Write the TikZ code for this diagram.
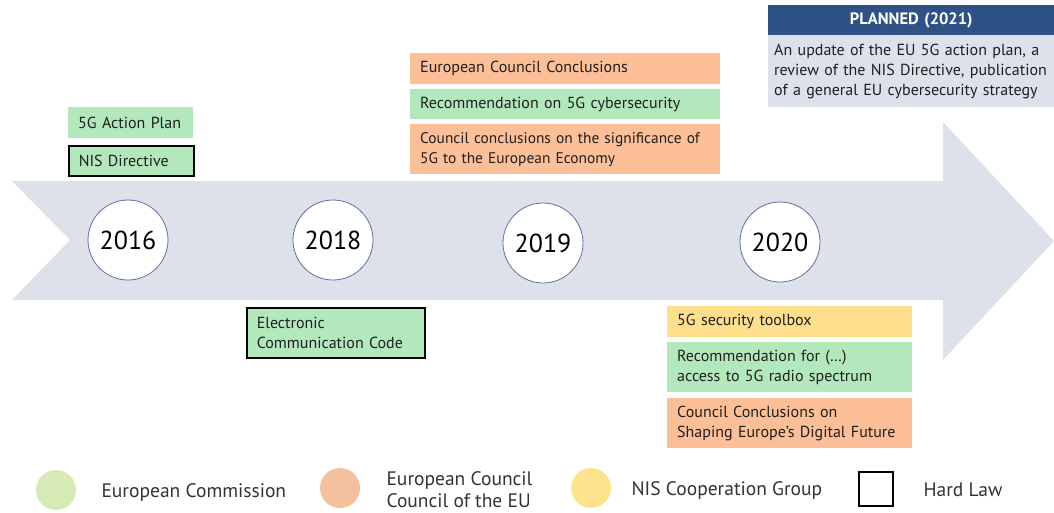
\documentclass[tikz,border=0pt]{standalone}
\usepackage{fontspec}
\setmainfont{PT Sans}
\definecolor{eugreen}{HTML}{B3E8BD}
\definecolor{euorange}{HTML}{FCBF97}
\definecolor{euyellow}{HTML}{FFDF8C}
\definecolor{arrowgray}{HTML}{DCE1EA}
\definecolor{navy}{HTML}{2F5286}
\definecolor{planbody}{HTML}{DDE1EA}
\definecolor{circ}{HTML}{5B72A6}
\definecolor{lgreen}{HTML}{D6EAB6}
\definecolor{lorange}{HTML}{F3C19D}
\definecolor{lyellow}{HTML}{FDE38C}
\tikzset{
  box/.style={anchor=north west, inner xsep=10pt, inner ysep=0pt, align=left,
    font=\fontsize{16}{20}\selectfont, text=black!88},
  hard/.style={draw=black, line width=1.5pt},
  year/.style={circle, draw=circ, line width=0.8pt, fill=white, minimum size=80pt,
    inner sep=0pt, font=\fontsize{26}{26}\selectfont},
  legdot/.style={circle, minimum size=40pt, inner sep=0pt},
  legtext/.style={anchor=west, align=left, font=\fontsize{19.5}{22}\selectfont, text=black!80},
}
\begin{document}
\begin{tikzpicture}[x=1pt,y=-1pt]
\useasboundingbox (0,0) rectangle (1054,512);
% arrow
\fill[arrowgray] (12,181) -- (943,181) -- (943,122) -- (1054,241) -- (943,360)
  -- (943,300) -- (12,300) -- (70,240) -- cycle;
% years
\node[year] (y2016) at (128,240) {2016};
\node[year] (y2018) at (333,240) {2018};
\node[year] (y2019) at (543,243) {2019};
\node[year] (y2020) at (780,242) {2020};
% 2016
\node[box, fill=eugreen, minimum width=125pt, minimum height=31pt, text width=105pt] (ap) at (68,107) {5G Action Plan};
\node[box, fill=eugreen, hard, minimum width=125pt, minimum height=30pt, text width=105pt] (nis) at (68,145) {NIS Directive};
% 2018
\node[box, fill=eugreen, hard, minimum width=178pt, minimum height=50pt, text width=158pt] (ecc) at (246,307) {Electronic\\Communication Code};
% 2019
\node[box, fill=euorange, minimum width=310pt, minimum height=31pt, text width=290pt] (ecc19) at (410,53) {European Council Conclusions};
\node[box, fill=eugreen, minimum width=310pt, minimum height=30pt, text width=290pt] (rec19) at (410,89) {Recommendation on 5G cybersecurity};
\node[box, fill=euorange, font=\fontsize{15.4}{20}\selectfont, minimum width=310pt, minimum height=50pt, text width=290pt] (cc19) at (410,124) {Council conclusions on the significance of\\5G to the European Economy};
% planned
\node[box, fill=navy, text=white, font=\fontsize{16.5}{18}\selectfont\bfseries, align=center, minimum width=286pt, minimum height=30pt, text width=266pt] (plh) at (768,5) {PLANNED (2021)};
\node[box, fill=planbody, minimum width=286pt, minimum height=72pt, text width=274pt, inner xsep=6pt] (plb) at (768,35) {An update of the EU 5G action plan, a\\review of the NIS Directive, publication\\of a general EU cybersecurity strategy};
% 2020
\node[box, fill=euyellow, minimum width=245pt, minimum height=31pt, text width=225pt] (tb) at (667,306) {5G security toolbox};
\node[box, fill=eugreen, minimum width=245pt, minimum height=50pt, text width=225pt] (rs) at (667,342) {Recommendation for (\dots)\\access to 5G radio spectrum};
\node[box, fill=euorange, minimum width=245pt, minimum height=50pt, text width=225pt] (sd) at (667,398) {Council Conclusions on\\Shaping Europe’s Digital Future};
% legend
\node[legdot, fill=lgreen] (lg1) at (56,490) {};
\node[legtext] (lt1) at (98,492) {European Commission};
\node[legdot, fill=lorange] (lg2) at (340,488) {};
\node[legtext] (lt2) at (383,490) {European Council\\Council of the EU};
\node[legdot, fill=lyellow] (lg3) at (591,488) {};
\node[legtext] (lt3) at (628,490) {NIS Cooperation Group};
\node[draw=black, line width=1.5pt, minimum size=34pt, inner sep=0pt] (lg4) at (876,489) {};
\node[legtext] (lt4) at (920,490) {Hard Law};
\end{tikzpicture}
\end{document}
